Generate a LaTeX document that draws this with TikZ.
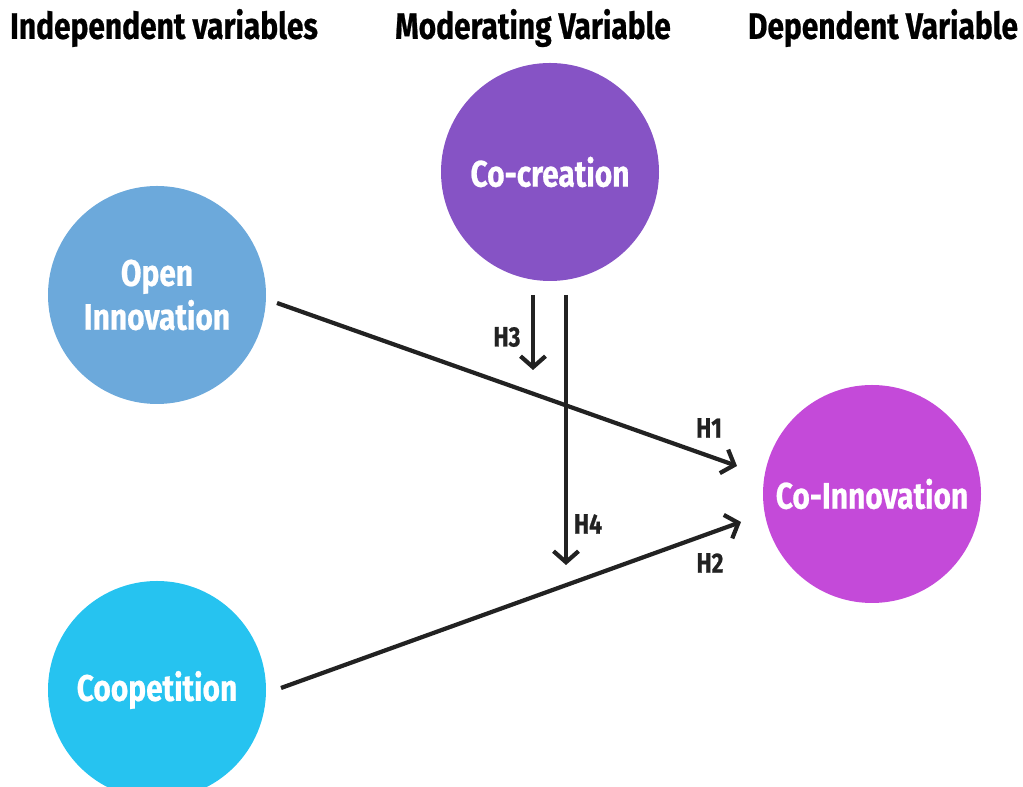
\documentclass[tikz,border=0pt]{standalone}
\usepackage{fontspec}
\setmainfont{Fira Sans}[FakeStretch=0.81, BoldFeatures={FakeBold=0.6}]
\usepackage{tikz}
\usetikzlibrary{arrows.meta}
\definecolor{openblue}{HTML}{6CA9DB}
\definecolor{cocreate}{HTML}{8653C5}
\definecolor{coopcyan}{HTML}{26C3F0}
\definecolor{coinnov}{HTML}{C44AD9}
\definecolor{ink}{HTML}{222222}
\tikzset{
    every node/.style={font=\bfseries\fontsize{21}{24}\selectfont, text=black}
}
\tikzset{
    var/.style={circle, minimum size=4.36cm, inner sep=0pt, align=center,
    	text=white}
}
\tikzset{
    hyp/.style={font=\bfseries\fontsize{16}{18}\selectfont, text=ink}
}
\tikzset{
    every edge/.append style={line width=2.4pt, draw=ink,
    	-{Straight Barb[length=2.2mm, width=5mm, line width=2.4pt]}}
}

\begin{document}
\begin{tikzpicture}
	\useasboundingbox (0,0) rectangle (20.46,15.74);
	% column headings
	\node (h1) at (3.28,15.18) {Independent variables};
	\node (h2) at (10.66,15.18) {Moderating Variable};
	\node (h3) at (17.66,15.18) {Dependent Variable};
	
	% variables
	\node (1) [var, fill=openblue] at (3.14,9.84) {Open\\[1pt]Innovation};
	\node (2) [var, fill=cocreate] at (11.0,12.3) {Co-creation};
	\node (3) [var, fill=coopcyan] at (3.14,1.94) {Coopetition};
	\node (4) [var, fill=coinnov] at (17.44,5.86) {Co-Innovation};
	
	% arrow ends
	\coordinate (a1) at (5.54,9.68); \coordinate (b1) at (14.74,6.42);
	\coordinate (a2) at (5.62,1.98); \coordinate (b2) at (14.82,5.30);
	\coordinate (a3) at (10.66,9.84); \coordinate (b3) at (10.66,8.34);
	\coordinate (a4) at (11.32,9.84); \coordinate (b4) at (11.32,4.44);
	
	\draw (a1) edge (b1); \draw (a2) edge (b2);
	\draw (a3) edge (b3); \draw (a4) edge (b4);
	
	\node (l1) [hyp] at (14.18,7.18) {H1};
	\node (l2) [hyp] at (14.2,4.48) {H2};
	\node (l3) [hyp] at (10.14,9.0) {H3};
	\node (l4) [hyp] at (11.76,5.26) {H4};
\end{tikzpicture}
\end{document}
